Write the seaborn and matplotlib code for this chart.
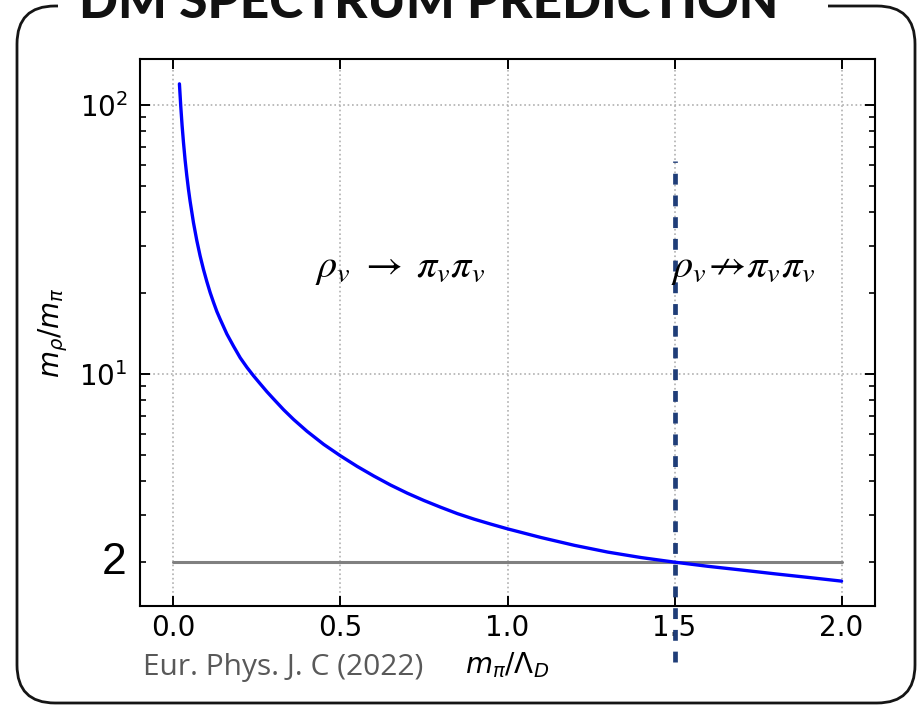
import numpy as np
import pandas as pd
import seaborn as sns
import matplotlib
matplotlib.use("Agg")
import matplotlib.pyplot as plt
from matplotlib.patches import FancyBboxPatch, Rectangle
from matplotlib.ticker import LogLocator, NullFormatter, FixedLocator

# m_pi / Lambda_D  and  m_rho / m_pi along the prediction curve
ratio_x = [0.018, 0.022, 0.026, 0.03, 0.035, 0.04, 0.045, 0.05, 0.06, 0.07,
           0.08, 0.09, 0.10, 0.11, 0.12, 0.13, 0.14, 0.16, 0.18, 0.20, 0.22,
           0.24, 0.26, 0.28, 0.30, 0.33, 0.36, 0.40, 0.45, 0.50, 0.55, 0.60,
           0.65, 0.70, 0.75, 0.80, 0.85, 0.90, 0.95, 1.00, 1.10, 1.20, 1.30,
           1.40, 1.50, 1.60, 1.70, 1.80, 1.90, 2.00]
mass_ratio = [120, 99, 84, 73, 62.5, 54.8, 48.7, 43.9, 36.6, 31.4,
              27.5, 24.5, 22.1, 20.1, 18.5, 17.1, 16.0, 14.1, 12.7, 11.5, 10.6,
              9.85, 9.2, 8.6, 8.08, 7.37, 6.78, 6.13, 5.48, 4.97, 4.54, 4.18,
              3.87, 3.61, 3.39, 3.20, 3.03, 2.89, 2.77, 2.66, 2.47, 2.31, 2.18,
              2.08, 2.00, 1.93, 1.87, 1.81, 1.755, 1.70]

# kinematic threshold m_rho = 2 m_pi
threshold_value = 2
threshold_span = [0.0, 2.0]

# decay allowed / forbidden boundary
boundary_x = 1.5
boundary_span = [0.85, 62]

x_ticks = [0.0, 0.5, 1.0, 1.5, 2.0]
x_tick_labels = ["0.0", "0.5", "1.0", "1.5", "2.0"]
y_ticks = [10, 100]
y_tick_labels = [r"$10^{1}$", r"$10^{2}$"]

title = "DM SPECTRUM PREDICTION"
citation = "Eur. Phys. J. C (2022)"
allowed_label = r"$\rho_v\;\rightarrow\;\pi_v\pi_v$"
forbidden_label = r"$\rho_v\!\nrightarrow\!\pi_v\pi_v$"
label_pos_allowed = (0.425, 25)
label_pos_forbidden = (1.49, 25)

sns.set_theme(style="white")
plt.rcParams["font.family"] = ["DejaVu Sans"]
plt.rcParams["mathtext.fontset"] = "dejavusans"
plt.rcParams["text.color"] = "black"
plt.rcParams["axes.labelcolor"] = "black"

W, H = 922, 707
fig = plt.figure(figsize=(W / 100, H / 100), dpi=100)
fig.patch.set_facecolor("white")

# slide frame in pixel coordinates
bg = fig.add_axes([0, 0, 1, 1], zorder=0)
bg.set_xlim(0, W)
bg.set_ylim(H, 0)
bg.axis("off")
bg.add_patch(FancyBboxPatch((17, 6), 898, 697,
                            boxstyle="round,pad=0,rounding_size=38",
                            fill=False, ec="#151515", lw=2.0))
bg.add_patch(Rectangle((58, -5), 770, 20, fc="white", ec="none", zorder=3))
bg.text(429, 18, title, ha="center", va="baseline", fontsize=37,
        fontweight="black", family="Lato", color="#111111", zorder=4)
bg.text(143, 668, citation, ha="left", va="center", fontsize=21.5,
        family="Open Sans", color="#595959", zorder=4)

# main panel
ax = fig.add_axes([140 / W, 1 - 606 / H, 735 / W, 547 / H], zorder=1)
ax.set_facecolor("white")

df = pd.DataFrame({"x": ratio_x, "y": mass_ratio})
sns.lineplot(data=df, x="x", y="y", ax=ax, color="#0000ff", lw=2.4,
             sort=False, estimator=None, zorder=3)
ax.plot(threshold_span, [threshold_value, threshold_value],
        color="#808080", lw=2.2, zorder=2)

ax.set_yscale("log")
ax.margins(x=0.05, y=0.05)
ax.autoscale_view()

ax.plot([boundary_x, boundary_x], boundary_span, color="#1f3d78", lw=3.4,
        dashes=(2.3, 2.3), dash_capstyle="butt", clip_on=False,
        scalex=False, scaley=False, zorder=6)

ax.set_xticks(x_ticks)
ax.set_xticklabels(x_tick_labels)
ax.yaxis.set_major_locator(FixedLocator(y_ticks))
ax.set_yticklabels(y_tick_labels)
ax.yaxis.set_minor_locator(LogLocator(base=10, subs=np.arange(2, 10)))
ax.yaxis.set_minor_formatter(NullFormatter())

ax.tick_params(axis="both", which="both", direction="in", top=True,
               right=True, bottom=True, left=True, colors="black",
               labelcolor="black", labelsize=20)
ax.tick_params(axis="both", which="major", length=7, width=1.4)
ax.tick_params(axis="both", which="minor", length=4, width=1.2)
ax.tick_params(axis="x", pad=6)
ax.tick_params(axis="y", pad=9)

ax.grid(True, which="major", color="#b0b0b0", linestyle=":", lw=1.2)
for s in ax.spines.values():
    s.set_visible(True)
    s.set_color("black")
    s.set_linewidth(1.5)

ax.set_xlabel(r"$m_{\pi}/\Lambda_{D}$", fontsize=20)
ax.set_ylabel(r"$m_{\rho}/m_{\pi}$", fontsize=20)
ax.xaxis.set_label_coords(0.5, -0.08)
ax.yaxis.set_label_coords(-0.095, 0.5)

ax.text(-0.018, threshold_value, "2", transform=ax.get_yaxis_transform(),
        ha="right", va="center", fontsize=32, family="Liberation Sans",
        color="black")

ax.text(*label_pos_allowed, allowed_label, fontsize=29,
        math_fontfamily="stix", ha="left", va="center", zorder=7)
ax.text(*label_pos_forbidden, forbidden_label, fontsize=29,
        math_fontfamily="stix", ha="left", va="center", zorder=7)

fig.savefig("out.png", dpi=100, facecolor="white")
